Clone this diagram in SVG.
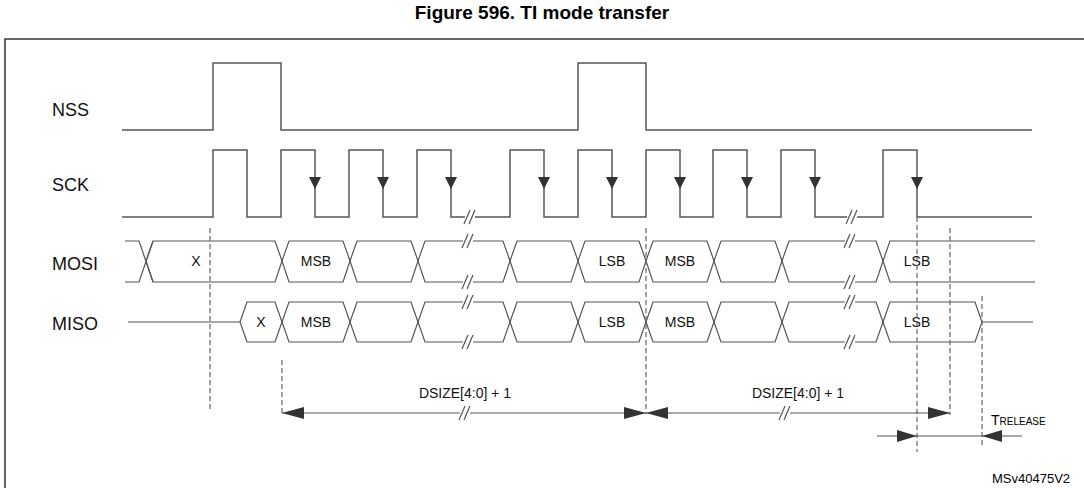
<svg xmlns="http://www.w3.org/2000/svg" width="1084" height="488" viewBox="0 0 1084 488">
<defs>
<style>
.s{fill:none;stroke:#555;stroke-width:1.5}
.b{fill:none;stroke:#555;stroke-width:1.2}
.d{fill:none;stroke:#666;stroke-width:1.2;stroke-dasharray:5 3}
.t{font-family:"Liberation Sans",Arial,sans-serif;font-size:18px;fill:#111}
.c{font-family:"Liberation Sans",Arial,sans-serif;font-size:14px;fill:#111;text-anchor:middle}
.h{fill:#333}
</style>
<path id="dn" class="h" d="M-6,-6 L6,-6 L0,6 Z"/>
<g id="brk"><rect x="-5" y="-6" width="10" height="12" fill="#fff"/><path class="b" d="M-6,7 L0,-7 M-1,7 L5,-7"/></g>
</defs>
<rect x="5" y="39" width="1100" height="470" fill="#fff" stroke="#333" stroke-width="1.5"/>
<text x="542" y="19" text-anchor="middle" font-family="Liberation Sans,Arial,sans-serif" font-size="19" font-weight="bold">Figure 596. TI mode transfer</text>
<g id="labels">
<text class="t" x="52" y="116">NSS</text>
<text class="t" x="52" y="191">SCK</text>
<text class="t" x="52" y="270">MOSI</text>
<text class="t" x="52" y="330">MISO</text>
</g>
<g id="nss"><path class="s" d="M122,130 H213 V63 H281 V130 H578 V63 H646 V130 H1032"/></g>
<g id="sck">
<path class="s" d="M122,217 H213 V150 H247 V217 H281 V150 H315 V217 H349 V150 H383 V217 H417 V150 H451 V217 H510 V150 H544 V217 H578 V150 H612 V217 H646 V150 H680 V217 H713 V150 H747 V217 H781 V150 H815 V217 H883 V150 H917 V217 H1032"/>
<use href="#brk" x="470" y="217"/><use href="#brk" x="852" y="217"/>
<use href="#dn" x="315" y="183"/><use href="#dn" x="383" y="183"/><use href="#dn" x="451" y="183"/><use href="#dn" x="544" y="183"/><use href="#dn" x="612" y="183"/><use href="#dn" x="680" y="183"/><use href="#dn" x="747" y="183"/><use href="#dn" x="815" y="183"/><use href="#dn" x="917" y="183"/>
</g>
<g id="mosi">
<path class="b" d="M125,241 H139 L153,282 M125,282 H139 L153,241"/>
<path class="b" d="M146,261 L153,241 H275 L282,261 L275,282 H153 Z"/>
<path class="b" d="M282,261 L289,241 H343 L350,261 L343,282 H289 Z"/>
<path class="b" d="M350,261 L357,241 H411 L418,261 L411,282 H357 Z"/>
<path class="b" d="M418,261 L425,241 H503 L510,261 L503,282 H425 Z"/>
<path class="b" d="M510,261 L517,241 H571 L578,261 L571,282 H517 Z"/>
<path class="b" d="M578,261 L585,241 H639 L646,261 L639,282 H585 Z"/>
<path class="b" d="M646,261 L653,241 H707 L714,261 L707,282 H653 Z"/>
<path class="b" d="M714,261 L721,241 H775 L782,261 L775,282 H721 Z"/>
<path class="b" d="M782,261 L789,241 H876 L883,261 L876,282 H789 Z"/>
<path class="b" d="M883,261 L890,241 H1035 M883,261 L890,282 H1035"/>
<use href="#brk" x="468" y="241"/><use href="#brk" x="468" y="282"/>
<use href="#brk" x="850" y="241"/><use href="#brk" x="850" y="282"/>
<text class="c" x="196" y="266">X</text>
<text class="c" x="316" y="266">MSB</text>
<text class="c" x="612" y="266">LSB</text>
<text class="c" x="680" y="266">MSB</text>
<text class="c" x="917" y="266">LSB</text>
</g>
<g id="miso">
<path class="b" d="M128,322 H240"/>
<path class="b" d="M240,322 L247,302 H275 L282,322 L275,342 H247 Z"/>
<path class="b" d="M282,322 L289,302 H343 L350,322 L343,342 H289 Z"/>
<path class="b" d="M350,322 L357,302 H411 L418,322 L411,342 H357 Z"/>
<path class="b" d="M418,322 L425,302 H503 L510,322 L503,342 H425 Z"/>
<path class="b" d="M510,322 L517,302 H571 L578,322 L571,342 H517 Z"/>
<path class="b" d="M578,322 L585,302 H639 L646,322 L639,342 H585 Z"/>
<path class="b" d="M646,322 L653,302 H707 L714,322 L707,342 H653 Z"/>
<path class="b" d="M714,322 L721,302 H775 L782,322 L775,342 H721 Z"/>
<path class="b" d="M782,322 L789,302 H876 L883,322 L876,342 H789 Z"/>
<path class="b" d="M883,322 L890,302 H975 L982,322 L975,342 H890 Z"/>
<path class="b" d="M982,322 H1033"/>
<use href="#brk" x="468" y="302"/><use href="#brk" x="468" y="342"/>
<use href="#brk" x="850" y="302"/><use href="#brk" x="850" y="342"/>
<text class="c" x="261" y="327">X</text>
<text class="c" x="316" y="327">MSB</text>
<text class="c" x="612" y="327">LSB</text>
<text class="c" x="680" y="327">MSB</text>
<text class="c" x="917" y="327">LSB</text>
</g>
<g id="connectors">
<path class="d" d="M210,228 V412 M282,360 V414 M646,228 V414 M917,217 V452 M950,228 V415 M982,296 V447"/>
<path class="b" d="M282,413 H646 M646,413 H950 M877,436 H1022"/>
<path class="h" d="M282,413 L304,407 V419 Z M646,413 L624,407 V419 Z M646,413 L668,407 V419 Z M950,413 L928,407 V419 Z M917,436 L897,430 V442 Z M982,436 L1002,430 V442 Z"/>
<use href="#brk" x="465" y="413"/><use href="#brk" x="785" y="413"/>
<text class="c" x="465" y="398">DSIZE[4:0] + 1</text>
<text class="c" x="798" y="398">DSIZE[4:0] + 1</text>
<text font-family="Liberation Sans,Arial,sans-serif" font-size="14" x="991" y="425">T<tspan font-size="10">RELEASE</tspan></text>
</g>
<text font-family="Liberation Sans,Arial,sans-serif" font-size="13" x="992" y="483">MSv40475V2</text>
</svg>
